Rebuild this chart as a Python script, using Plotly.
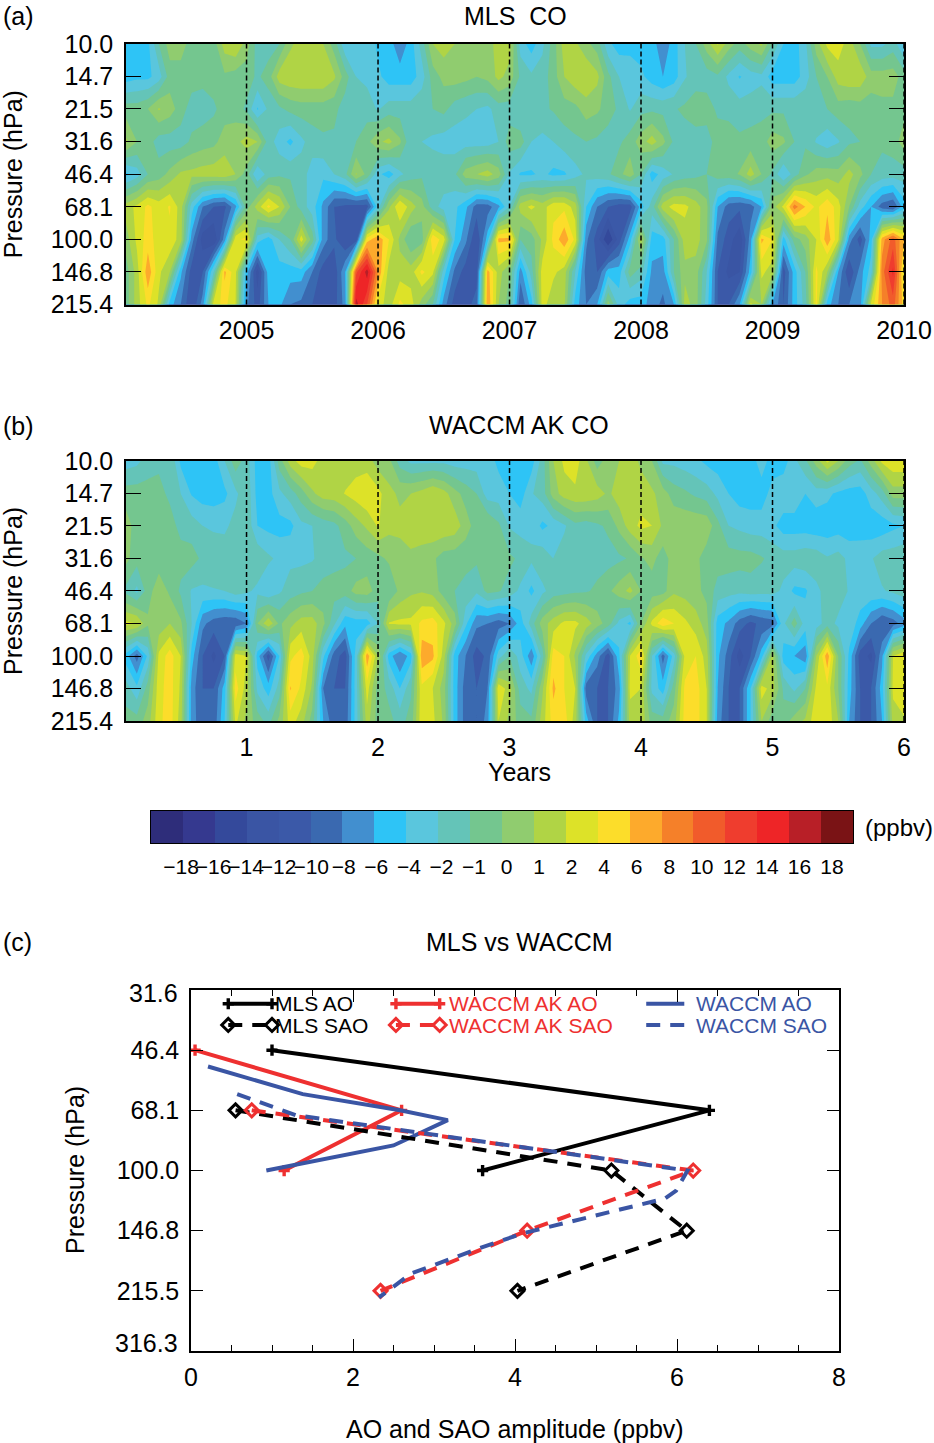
"""
CO anomalies in the tropical lower stratosphere: MLS vs WACCM.

Panels (a) and (b) are pressure/time contours on the colour bands below,
panel (c) is the AO and SAO amplitude profile.

Writes: out.html
"""

import numpy as np
import plotly.graph_objects as go

W, H = 934, 1443
FONT = "Liberation Sans"
TEXT_SIZE = 25

# =============================================================================
# DATA
# =============================================================================

PRESSURE = [10.0, 14.7, 21.5, 31.6, 46.4, 68.1, 100.0, 146.8, 215.4]
PRESSURE_LABELS = ["10.0", "14.7", "21.5", "31.6", "46.4", "68.1", "100.0", "146.8", "215.4"]
MONTHS = list(range(1, 73))
YEAR_TICKS = [1, 2, 3, 4, 5, 6]
CAL_YEARS = ["2005", "2006", "2007", "2008", "2009", "2010"]

LEVELS = [-20, -18, -16, -14, -12, -10, -8, -6, -4, -2, -1, 0, 1, 2, 4, 6, 8, 10, 12, 14, 16, 18, 20]
BAND_COLORS = [
    "#2E2D7A", "#35398F", "#34499B", "#3A55A4", "#3B59A8", "#3A69B0", "#428FCF",
    "#2EC4F6", "#5AC6DD", "#64C4B8", "#74C68F", "#90CC6F", "#B0D445", "#DDE228",
    "#FCDD2A", "#FDAA2C", "#F58029", "#F15B2B", "#EF3D2E", "#EE2527", "#B81F27",
    "#7A1315",
]
CBAR_LABELS = ["−18", "−16", "−14", "−12", "−10", "−8", "−6", "−4", "−2", "−1", "0",
               "1", "2", "4", "6", "8", "10", "12", "14", "16", "18"]

# ppbv, one row per pressure level, one column per month
MLS_CO = [
    [-5, -5, -4.5, -1, 0.5, 0.5, -0.5, -1, -0.5, 1.5, 2, 0.5, -1.5, -1.5, -1, 0.8, 1.5, 1.5, 1, -0.5, -3.5, -2.5, -2.5, -4.5,
     -5, -7.5, -5, -1.5, 1, 1.5, 1, 0.5, 0.5, 0.5, 1.5, 1.5, -3, -5, -2.5, -0.5, 1.5, 1.2, 0.3, -0.5, -3.5, -5, -5, -5,
     -5, -7.5, -5, -2, -1, 0.5, 2.2, 0.5, -0.5, 0.5, 1.2, -1, -4, -5, -2.5, 0.5, 2.5, 3, 1.5, 0, -2.5, -2.5, -1.5, -4],
    [-5, -4.5, -4.5, -3, -0.5, -0.5, -0.5, -0.7, -0.5, -0.2, -0.5, -0.5, -1.2, -0.5, 1.5, 1.8, 1.9, 1.9, 1.9, 1.2, -0.5, -2, -2.5, -3.5,
     -5, -5, -5, -3, -0.5, 0.3, 0.5, 0.3, 0, 0.3, 1.3, 0.6, -1.2, -1.8, -1.5, -0.5, 1, 1.7, 1.9, 1.3, -0.7, -2, -2.2, -3.5,
     -5, -6, -5, -2.2, -1.5, -1.5, -1.2, -2.5, -4.2, -3, -2.5, -5, -5, -5, -3, -1, 0, 1.5, 1.8, 1.7, 0.5, 0.5, 0.5, -0.5],
    [-0.5, -0.5, 0, 1.1, 0.5, -0.5, -1.5, -1.5, -1.2, -0.5, -0.5, -1.2, -4.2, -1.8, -1.2, -0.7, -0.5, -0.5, -0.5, -0.7, -1.5, -1.5, -1.5, -2.2,
     -1.5, -1.5, -1.5, -1.2, -1, -0.7, -1.5, -1.8, -2, -2.5, -1.5, -1.5, -2, -1.2, -1.2, -0.9, -0.5, -0.3, 0.5, 0.2, -0.5, -1.2, -2.2, -1.3,
     -1.2, -1.3, -1.1, -0.8, -0.4, -0.5, -1.2, -1.3, -1.5, -1.5, -1.3, -1.2, -1.2, -1.2, -1.2, -1.2, -1, -0.5, -0.7, -0.5, -0.5, -0.3, -0.3, -0.3],
    [1.2, 0, -0.5, -1.5, -1.5, -1.5, -0.8, -0.5, -0.3, 0.5, 0.7, 1.4, 1, -1.5, -3, -4.5, -2.5, -1.5, -1.2, -1.2, -1.4, -1, -0.3, 0.8,
     1.3, 0.2, -1.8, -2, -2.5, -3, -3, -3, -3, -3, -2, -0.5, -0.5, -2, -2.6, -2, -1.5, -1.2, -1, -1.2, -1.5, -1.2, -0.5, 0.5,
     1.5, 0.3, -1.2, -1.5, -1.5, -1.5, -0.5, -0.5, -0.8, -0.6, -0.5, 0.5, 0.2, -1, -1.2, -2.2, -3.3, -2.2, -1.2, -1, -0.8, -0.8, -0.5, 0.5],
    [-4.5, -3, -1, -0.5, 0.3, 1.2, 1.3, 1.5, 1.6, 1.7, 1, -0.5, -4, -1.5, -1.2, -1.2, -1.5, -3, -3.5, -2, -1.3, 1.1, -0.3, -3.5,
     -5, -2.5, -1.5, -1.2, -1.2, -1.2, -1.2, 0.5, 1, 1.5, 0.5, -2.2, -4.3, -4.3, -3.5, -4.5, -4.3, -2.8, -1.8, -1.5, -1.2, -0.3, 0.6, -1,
     -5, -3.2, -1.9, -1.5, -1.3, -1, -0.5, -0.4, 0.1, 1.5, 0, -1.2, -4, -1.5, -0.2, 0.5, 0.6, 0.4, 1.4, 0.3, -1, -1.4, -1.5, -1.5],
    [1.5, 2.5, 4.5, 3, 4.2, 1.5, -3, -8, -10, -10.5, -6.5, -0.5, 1.5, 4.5, 2, 0, -1.5, -3, -6.5, -10, -10.5, -10.8, -10.8, -3,
     0.8, 4, 1.5, 0.4, -1.5, -3, -3.5, -5.5, -9, -9, -6.5, -2, 1.5, 2.5, 1.5, 3.5, 3.5, 1.5, -4, -8, -10, -11, -11, -5,
     -1.5, 1.5, 2.8, 2.5, 1.5, 0.3, -6, -9, -9.5, -9, -6, 0.5, 2.5, 9, 6, 3.5, 5.5, 3, 0, -3, -6, -9, -10, -5],
    [0.5, 2.5, 5, 3, 3.5, 1.5, -7, -13, -14, -7, 3.5, 4.5, -3, -5, -2, -1, 3, -0.5, -7, -9.5, -12, -11.5, 5, 7.5,
     4, 0.7, -1, -0.5, 5.5, 3, -4, -7.5, -12, -5, 6.5, 6.5, -1, -0.5, 1.2, 4.5, 7.5, 3.5, -7.5, -11, -16, -11, -5, 1.5,
     -5, -5, -1, 1.5, 1.5, 0.2, -8.5, -11, -13.5, -7, 6.5, 4, -5, -0.5, 0.5, 2, 7.5, 2.5, -7, -11, -5, 7, 11, 6],
    [-0.5, 1.5, 7.5, 2.5, 1, -5.5, -11, -10, -2, 6.5, 2.5, -5, -13, -5, -5, -5, -5, -8, -11, -11.5, -6, 11.5, 17, 8,
     1.5, 1.5, 1.5, 4.5, 2.5, -3, -8.5, -11, -11, 7, 1.5, 0, -7, -1.5, 3, 2.5, 1.5, -2, -9, -10, -5, -5, -0.5, -1.5,
     -6.5, -7, -1, 0.7, 0.5, -2, -10, -12.5, -12, -5, 2.5, 1.5, -11, -5, -1, 4.5, 1, -6, -12, -7, -3, 9, 14.5, 3],
    [-0.5, 1.5, 4.5, 1.8, -5, -8, -12, -7, 3, 4.7, 2, -7.5, -11, -6, -5.5, -8, -8.5, -10, -11, -11, -7, 17, 12, 3,
     1.5, 4.5, 3, 0.5, -1, -7, -11, -11, -9, 8, 1, -0.5, -10, -5, 3, 1.2, 1.2, -5, -8, -6, 0.5, -3, -5, -5,
     -7, -8.5, -6, 1.5, 0.5, -3, -10, -10, -6, 2.5, 1, -6, -10, -5, -1.5, 4.5, -5, -8, -8, -7, 2.5, 8, 11, 5],
]

WACCM_CO = [
    [-3, -2.5, -1.5, -1.2, -1, -4.5, -5, -5, -5, -2, -0.4, -1.5, -5, -5, -0.5, 1.5, 3, 2.8, 1.5, 1.5, 1.5, 1.5, 1.5, 0.5,
     0.3, -1.5, -2.5, -2.5, -2.5, -2.5, -3, -3, -3, -3, -4.5, -5, -5, -5, -1.5, 1, 2.5, 3, 1.2, -0.5, 0.5, 1, 1.5, 0.8,
     0, -2.5, -2.5, -3, -3.5, -4.5, -5, -5, -5, -5, -3, -5, -5, -2.5, -1.2, 0.5, 2.5, 1, -0.5, -1.2, 0.5, 2.5, 3.5, 3.5],
    [-0.5, -0.5, -0.6, -0.7, -1.2, -2, -4.2, -5, -5, -4.5, -2.5, -1.2, -4.8, -4.8, -2.5, -1.5, -0.5, 0.8, 1.5, 1.6, 2.1, 3, 3.8, 2.7,
     1.3, 0.8, 1, 1.4, 2, 1.4, 0.4, -0.4, -1, -3, -3, -4, -5, -2.2, -1.5, 0.5, 1.5, 1.8, 1.8, 1.5, 0.8, 1.5, 2, 1.5,
     1.2, 0.5, -0.5, -0.8, -1.2, -1.5, -2.5, -4, -5, -5, -5, -3.2, -2.5, -2.5, -4, -3, -3.5, -4.5, -5, -5, -3, -1.5, 0.5, 0.5],
    [0.5, -0.5, -0.5, -0.5, -0.6, -1.3, -1.5, -2, -2.5, -2.5, -1.6, -1.2, -4, -4.6, -4.8, -4.6, -2.5, -2, -1.6, -1.3, -0.5, 0.5, 1.2, 2.2,
     1.3, 1.3, 1.5, 1.7, 1.8, 1.8, 1.6, 0.5, -0.5, 0, -0.8, -2.2, -2.8, -2.5, -4.5, -3.5, -2.3, -1.3, -1.5, -1.2, -0.8, 0.3, 1.5, 2.5,
     2, 0.8, 0.8, 0.8, 0.8, 0.7, -0.7, -2, -2.5, -3, -3, -3.5, -5, -5, -5, -5.3, -5.3, -5, -5.3, -5.3, -5.3, -5.2, -4.5, -4],
    [0.3, -0.6, -0.6, -0.6, -0.6, -0.6, -0.6, -1.2, -1, -1.3, -1.3, -1.2, -1.2, -1.8, -2.5, -2.5, -2.5, -2.2, -1.6, -1.3, -1.2, -1, -0.6, -0.3,
     0.2, 0.5, 0.8, 0.5, 0.2, -0.5, -0.6, -0.7, -0.8, -0.5, -0.6, -0.8, -1.2, -1.8, -1.3, -2, -1.5, -1.5, -1.5, -1.4, -1.4, -1.2, -0.9, -0.1,
     0.3, -0.5, 0.5, 0.4, 0.3, -0.6, -0.5, -0.5, -0.6, -0.6, -0.9, -1.3, -1.5, -1.5, -1.3, -1.4, -1.9, -1.6, -2.5, -2.4, -2.2, -1.5, -1.4, -1.2],
    [-1.3, -2.5, -0.5, 0.7, -0.2, -1.2, -2.2, -2.4, -2.2, -2, -1.5, -1.8, -2.5, -3.9, -2.3, -1.5, -1.2, -1, -0.6, -0.6, -0.5, 0.4, 0.5, -0.5,
     -1, 0.3, 0.8, 0.9, 0.6, -0.5, -1, -1.3, -1.8, -0.7, -0.9, -1.4, -2.5, -4.5, -2.5, -1.5, -1.4, -1.2, -1.1, -0.8, -0.2, 0.5, 1.3, 0,
     -0.5, -0.4, 0.8, 0.6, 0.3, -0.3, -1.4, -1.6, -1.7, -1.5, -1.6, -1.6, -2.5, -4.5, -4.3, -2.5, -1.6, -1.4, -2.2, -2.5, -2.4, -2.2, -1.8, -1.4],
    [2.5, 2, 0.2, 0.3, 1, 0.2, -2, -7.5, -9, -9.5, -9.5, -8, 0, 1.8, -0.2, 0.7, 1.5, 1.5, 0.3, -1.8, -5.5, -5, -5, -2,
     2.2, 2.5, 2.5, 4.5, 5, 2.5, 0.5, -3.5, -7.5, -8, -9, -8, -5, -1.5, 0.5, 1.5, 2.5, 2.5, 1.5, 0.5, -0.5, -2.6, -4.5, 0,
     2.5, 5.5, 4, 2.5, 1.5, 0.5, -5, -6.5, -9, -10.5, -9.5, -9, -2.5, -0.5, -3, -3, -1.5, -2.5, -2.5, -5, -8, -10, -9, -7],
    [-5, -9, -3.5, 2.5, 5, 2, -5, -10, -12.5, -10, 3, 2, -5, -11, -4, 3.5, 5, 1.5, -3.5, -9, -11, -3, 7.5, 1,
     -5, -8, -5, 7.5, 6.5, 1.5, -5, -8, -11, -9.5, -3, -1, -3, -7.5, -1.5, 5, 4, 0.8, -2.5, -7, -11, -4.5, 2, 5.5,
     -2, -9, -3, 2.5, 4, 1.5, -5.5, -9, -13, -10, -5, 1.3, -5, -6, -7.5, 1, 7.5, 0, -4.5, -11, -12.5, -6.5, 2, 4],
    [-1.5, -3.5, -0.5, 3.2, 5, 1.8, -7, -10, -10, -5, 5, 1.5, -2.5, -5, -1.5, 6.2, 3.5, 0.8, -8, -10, -10, -3, 3, -0.5,
     -1.3, -4, -1.2, 3.5, 2, 0.5, -5, -9, -10, -8, 3.5, 1.5, -1.5, -2.5, 0.8, 6.5, 4, 2, -9, -10, -10, -7, 2.5, 2,
     -2.5, -5, -0.5, 4.5, 5, 2, -6, -10, -10, -4, 3, 1.5, -1.2, -2.5, -1, 2.5, 3.5, 0, -5, -10, -10, -5, 2.5, 4],
    [-0.6, -0.6, 0.5, 3.5, 5, 1.5, -7, -9.5, -9.5, -4, 2.5, 0.7, -0.5, -1.4, 0.3, 3, 1.5, -0.5, -6, -9.5, -9.5, -3, 1.5, -0.5,
     -0.7, -1.4, -0.6, 3.5, 2.5, 0.8, -5, -9, -10, -7, 2, 0.7, -0.5, -0.8, 1.5, 5, 5, 1.5, -5, -10, -10, -5.5, 1.5, 1.8,
     -0.5, -0.6, 0.5, 4.8, 5, 2, -7, -10, -10, -4, 1, -0.6, -0.6, 0.5, 1.2, 3.5, 3.5, 1, -6, -10, -10, -6, 1.5, 1.8],
]

# panel (c): amplitude (ppbv) and pressure (hPa)
MLS_AO_AMP = [1.0, 6.4, 3.6]
MLS_AO_P = [46.4, 68.1, 100.0]
AK_AO_AMP = [0.05, 2.6, 1.15]
AK_AO_P = [46.4, 68.1, 100.0]
WACCM_AO_AMP = [0.21, 1.38, 2.58, 3.17, 2.5, 0.93]
WACCM_AO_P = [51.5, 61.4, 68.1, 72.5, 85.2, 100.0]
MLS_SAO_AMP = [0.55, 5.19, 6.12, 4.03]
MLS_SAO_P = [68.1, 100.0, 146.8, 215.5]
AK_SAO_AMP = [0.75, 6.2, 4.15, 2.34]
AK_SAO_P = [68.1, 100.0, 146.8, 215.5]
WACCM_SAO_AMP = [0.57, 1.3, 6.13, 5.99, 5.85, 4.11, 3.6, 2.72, 2.32]
WACCM_SAO_P = [61.4, 70.3, 100.0, 113.6, 119.6, 149.0, 163.0, 192.8, 224.8]

C_TICKS = [31.6, 46.4, 68.1, 100.0, 146.8, 215.5, 316.3]
C_TICK_LABELS = ["", "46.4", "68.1", "100.0", "146.8", "215.5", ""]

BLACK = "#000000"
RED = "#EE3030"
BLUE = "#3A55A4"
DASH = "14px,10px"


def px_x(x):
    return x / W


def px_y(y):
    return 1 - y / H


def add_text(fig, text, x, y, size=TEXT_SIZE, color=BLACK, anchor="center", angle=0):
    fig.add_annotation(
        text=text, x=px_x(x), y=px_y(y), xref="paper", yref="paper", showarrow=False,
        xanchor=anchor, yanchor="middle", textangle=angle,
        font={"family": FONT, "size": size, "color": color},
    )


def band_index(values):
    # contour levels have to be even, so the ppbv bands are warped to their index
    return np.interp(np.array(values, dtype=float), LEVELS, np.arange(len(LEVELS)))


def stepped_scale():
    n = len(BAND_COLORS)
    scale = []
    for i, c in enumerate(BAND_COLORS):
        scale.append([i / n, c])
        scale.append([(i + 1) / n, c])
    return scale


def add_panel(fig, values, n, top, bottom, xlabels):
    fig.add_trace(go.Contour(
        x=[m / 12 for m in MONTHS], y=PRESSURE, z=band_index(values),
        xaxis=f"x{n}", yaxis=f"y{n}",
        colorscale=stepped_scale(), zmin=0, zmax=len(BAND_COLORS),
        autocontour=False,
        contours={"coloring": "fill", "start": 0, "end": len(BAND_COLORS), "size": 1, "showlines": False},
        line={"width": 0, "smoothing": 0}, showscale=False, hoverinfo="skip",
    ))
    fig.update_layout({
        f"xaxis{n}": dict(
            domain=[px_x(126), px_x(904)], anchor=f"y{n}", range=[1 / 12, 6],
            tickmode="array", tickvals=YEAR_TICKS, ticktext=xlabels, ticks="", tickangle=0,
            ticklabelstandoff=3, tickfont={"family": FONT, "size": TEXT_SIZE, "color": BLACK},
            showgrid=False, zeroline=False, showline=True, linecolor=BLACK, linewidth=1.5, mirror=True,
        ),
        f"yaxis{n}": dict(
            domain=[px_y(bottom), px_y(top)], anchor=f"x{n}", type="log",
            range=[np.log10(215.4), np.log10(10.0)],
            tickmode="array", tickvals=PRESSURE, ticktext=PRESSURE_LABELS,
            ticks="inside", ticklen=15, tickwidth=1.3, tickcolor=BLACK, ticklabelstandoff=6,
            tickfont={"family": FONT, "size": TEXT_SIZE, "color": BLACK},
            showgrid=False, zeroline=False, showline=True, linecolor=BLACK, linewidth=1.5, mirror="ticks",
        ),
    })
    for yr in YEAR_TICKS:
        fig.add_shape(
            type="line", x0=yr, x1=yr, y0=0, y1=1, xref=f"x{n}", yref=f"y{n} domain",
            line={"color": BLACK, "width": 1.5, "dash": "5px,3px"},
        )
    add_text(fig, "Pressure (hPa)", 13, (top + bottom) / 2, angle=-90)


def add_colorbar(fig):
    n = len(BAND_COLORS)
    fig.add_trace(go.Heatmap(
        x=list(range(n)), y=[0], z=[list(range(n))], xaxis="x3", yaxis="y3",
        colorscale=stepped_scale(), zmin=-0.5, zmax=n - 0.5, showscale=False, hoverinfo="skip",
    ))
    # the printed labels run a little wider than the bands
    label_px = np.linspace(181, 832, len(CBAR_LABELS))
    fig.update_layout(
        xaxis3=dict(
            domain=[px_x(151), px_x(853)], anchor="y3", range=[-0.5, n - 0.5],
            tickmode="array", tickvals=(label_px - 151) / (702 / n) - 0.5, ticktext=CBAR_LABELS,
            ticks="", tickangle=0, ticklabelstandoff=5, tickfont={"family": FONT, "size": 21, "color": BLACK},
            showgrid=False, zeroline=False, showline=True, linecolor=BLACK, linewidth=1.3, mirror=True,
        ),
        yaxis3=dict(
            domain=[px_y(843), px_y(811)], anchor="x3", range=[-0.5, 0.5], showticklabels=False,
            ticks="", showgrid=False, zeroline=False, showline=True, linecolor=BLACK, linewidth=1.3, mirror=True,
        ),
    )
    add_text(fig, "(ppbv)", 899, 827, size=24)


def add_profile(fig, x, y, color, dash="solid", symbol=None):
    marker = None
    if symbol == "plus":
        marker = {"symbol": "cross-thin", "size": 8, "line": {"color": color, "width": 3.4}}
    elif symbol == "diamond":
        marker = {"symbol": "diamond-open", "size": 10, "color": color, "line": {"color": color, "width": 3}}
    fig.add_trace(go.Scatter(
        x=x, y=y, xaxis="x4", yaxis="y4", mode="lines+markers" if marker else "lines",
        line={"color": color, "width": 4, "dash": dash}, marker=marker, showlegend=False,
        cliponaxis=False,
    ))


def add_key(fig, label, x0, x1, text_x, row, color, dash="solid", symbol=None):
    # key samples drawn in data units, row is the pressure of the key line
    add_profile(fig, [x0, x1], [row, row], color, dash, symbol)
    y_px = 990 + (np.log10(row) - np.log10(31.6)) / (1 / 6) * 60.2
    add_text(fig, label, text_x, y_px, size=21, color=color, anchor="left")


def main() -> None:
    fig = go.Figure()

    add_panel(fig, MLS_CO, "", 44, 304.5, CAL_YEARS)
    add_panel(fig, WACCM_CO, "2", 461, 721, [str(y) for y in YEAR_TICKS])
    add_colorbar(fig)

    add_profile(fig, MLS_AO_AMP, MLS_AO_P, BLACK, symbol="plus")
    add_profile(fig, AK_AO_AMP, AK_AO_P, RED, symbol="plus")
    add_profile(fig, WACCM_AO_AMP, WACCM_AO_P, BLUE)
    add_profile(fig, MLS_SAO_AMP, MLS_SAO_P, BLACK, DASH, "diamond")
    add_profile(fig, AK_SAO_AMP, AK_SAO_P, RED, DASH, "diamond")
    add_profile(fig, WACCM_SAO_AMP, WACCM_SAO_P, BLUE, DASH)

    add_key(fig, "MLS AO", 0.46, 1.0, 273, 34.5, BLACK, symbol="plus")
    add_key(fig, "MLS SAO", 0.46, 1.0, 273, 39.5, BLACK, DASH, "diamond")
    add_key(fig, "WACCM AK AO", 2.53, 3.07, 447, 34.5, RED, symbol="plus")
    add_key(fig, "WACCM AK SAO", 2.53, 3.07, 447, 39.5, RED, DASH, "diamond")
    add_key(fig, "WACCM AO", 5.62, 6.09, 694, 34.5, BLUE)
    add_key(fig, "WACCM SAO", 5.62, 6.09, 694, 39.5, BLUE, DASH)

    fig.update_layout(
        xaxis4=dict(
            domain=[px_x(191), px_x(839)], anchor="y4", range=[0, 8], dtick=2, tick0=0,
            ticks="inside", ticklen=12, tickwidth=1.3, tickcolor=BLACK, ticklabelstandoff=3,
            minor={"dtick": 0.5, "ticks": "inside", "ticklen": 6, "tickcolor": BLACK, "tickwidth": 1.3},
            tickfont={"family": FONT, "size": TEXT_SIZE, "color": BLACK},
            showgrid=False, zeroline=False, showline=True, linecolor=BLACK, linewidth=1.5, mirror="ticks",
        ),
        yaxis4=dict(
            domain=[px_y(1351), px_y(990)], anchor="x4", type="log",
            range=[np.log10(316.3), np.log10(31.6)],
            tickmode="array", tickvals=C_TICKS, ticktext=C_TICK_LABELS,
            ticks="inside", ticklen=12, tickwidth=1.3, tickcolor=BLACK, ticklabelstandoff=5,
            tickfont={"family": FONT, "size": TEXT_SIZE, "color": BLACK},
            showgrid=False, zeroline=False, showline=True, linecolor=BLACK, linewidth=1.5, mirror="ticks",
        ),
    )

    add_text(fig, "31.6", 180, 993, anchor="right")
    add_text(fig, "316.3", 180, 1343, anchor="right")
    add_text(fig, "Pressure (hPa)", 75, 1170, angle=-90)
    add_text(fig, "AO and SAO amplitude (ppbv)", 515, 1429)
    add_text(fig, "Years", 519, 772)

    add_text(fig, "(a)", 1, 16, anchor="left")
    add_text(fig, "MLS  CO", 515, 16)
    add_text(fig, "(b)", 1, 426, anchor="left")
    add_text(fig, "WACCM AK CO", 519, 425)
    add_text(fig, "(c)", 1, 942, anchor="left")
    add_text(fig, "MLS vs WACCM", 519, 942)

    fig.update_layout(
        width=W, height=H, margin={"l": 0, "r": 0, "t": 0, "b": 0, "autoexpand": False},
        paper_bgcolor="white", plot_bgcolor="white", showlegend=False,
        font={"family": FONT, "size": TEXT_SIZE, "color": BLACK},
    )
    fig.write_html("out.html", config={"displayModeBar": False},
                   post_script="document.body.style.margin='0';")


if __name__ == "__main__":
    main()
